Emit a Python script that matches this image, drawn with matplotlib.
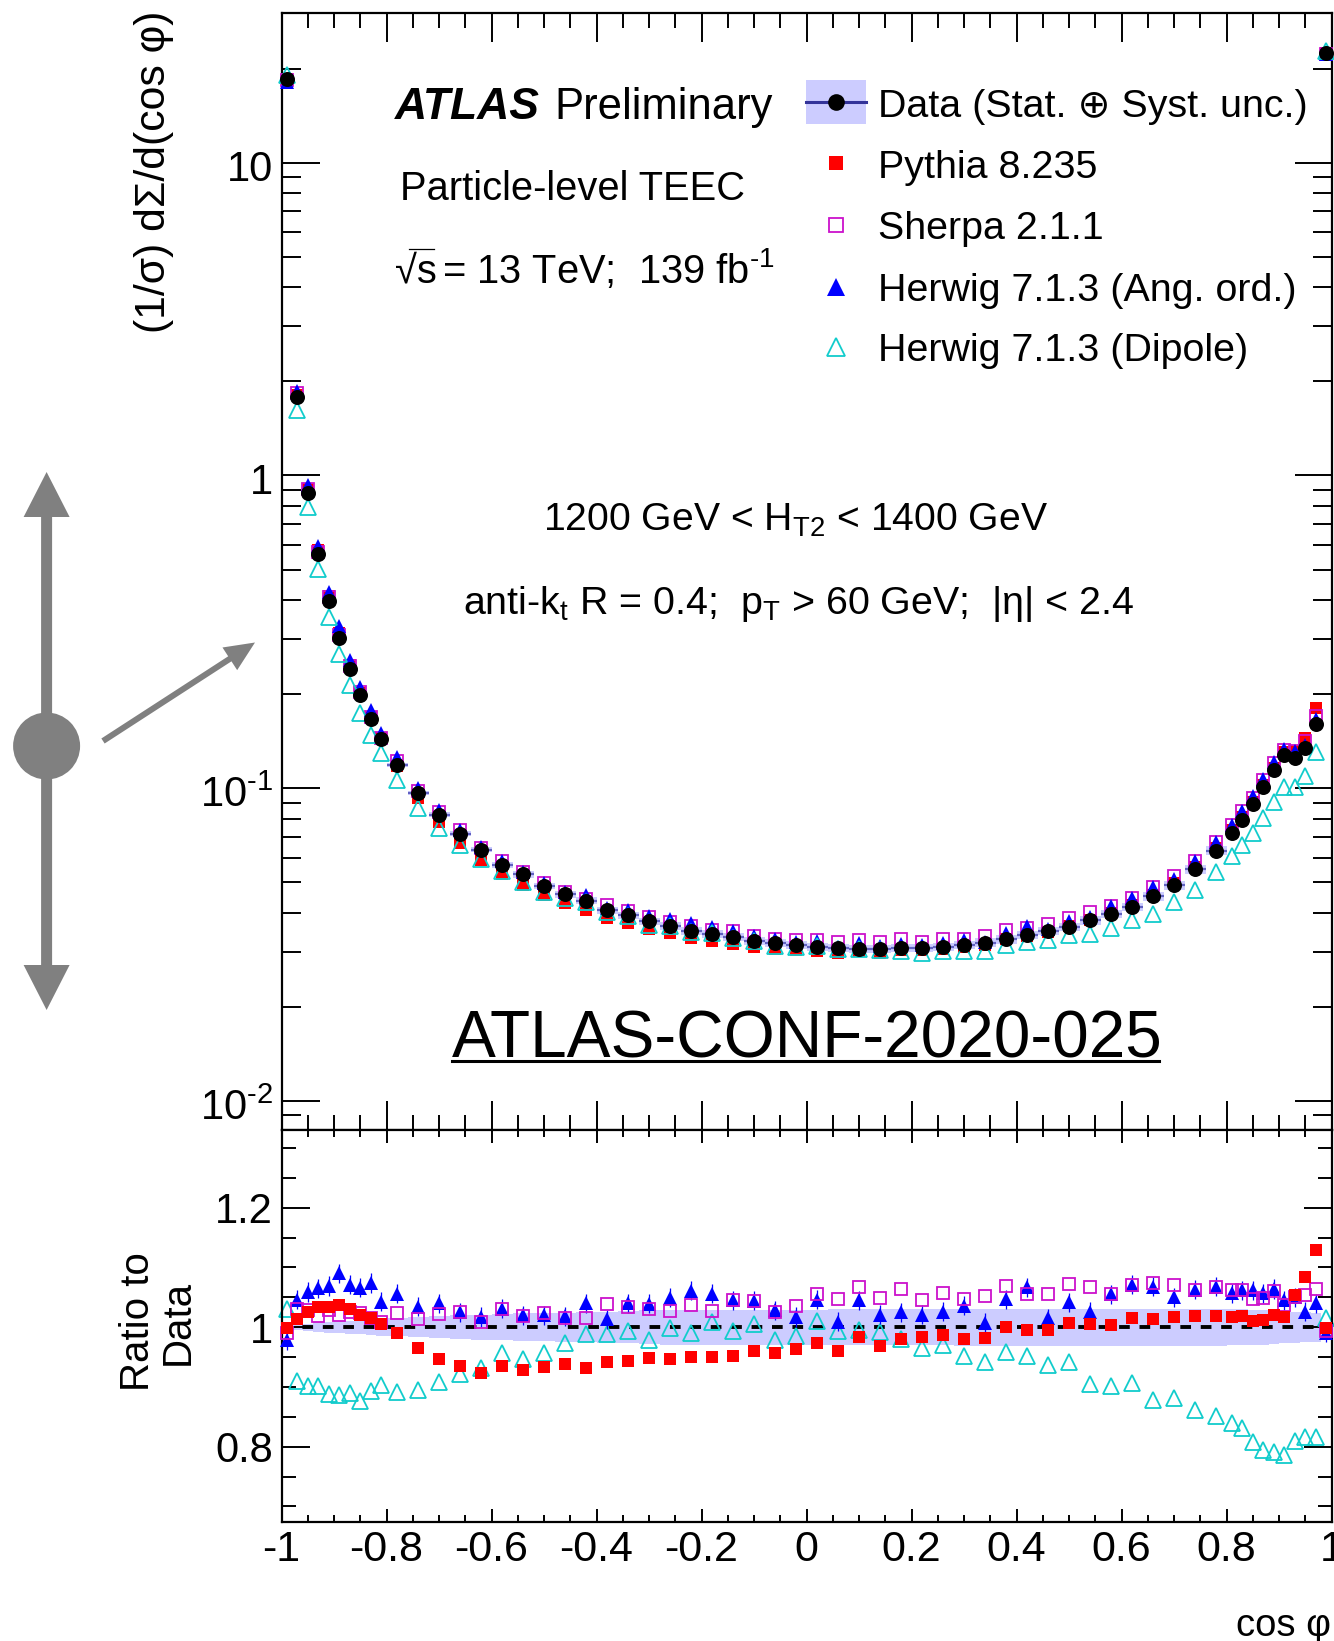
import matplotlib
matplotlib.use('Agg')
from matplotlib import pyplot as plt
from matplotlib.patches import FancyArrow, Circle, Rectangle
from matplotlib.transforms import ScaledTranslation
import numpy as np

plt.rcParams['font.family'] = ['Liberation Sans', 'DejaVu Sans']
plt.rcParams['mathtext.fontset'] = 'custom'
plt.rcParams['mathtext.rm'] = 'Liberation Sans'
plt.rcParams['mathtext.it'] = 'Liberation Sans:italic'
plt.rcParams['mathtext.bf'] = 'Liberation Sans:bold'
plt.rcParams['axes.unicode_minus'] = False

# bin edges in cos phi
x_edges = [-1.0, -0.98, -0.96, -0.94, -0.92, -0.90, -0.88, -0.86, -0.84, -0.82, -0.80,
           -0.76, -0.72, -0.68, -0.64, -0.60, -0.56, -0.52, -0.48, -0.44, -0.40, -0.36,
           -0.32, -0.28, -0.24, -0.20, -0.16, -0.12, -0.08, -0.04, 0.0, 0.04, 0.08,
           0.12, 0.16, 0.20, 0.24, 0.28, 0.32, 0.36, 0.40, 0.44, 0.48, 0.52, 0.56,
           0.60, 0.64, 0.68, 0.72, 0.76, 0.80, 0.82, 0.84, 0.86, 0.88, 0.90, 0.92,
           0.94, 0.96, 0.98, 1.0]

data = [18.5, 1.78, 0.88, 0.559, 0.398, 0.302, 0.240, 0.198, 0.166, 0.144,
        0.119, 0.0966, 0.0822, 0.0716, 0.0637, 0.0568, 0.0530, 0.0487, 0.0458, 0.0437,
        0.0408, 0.0392, 0.0375, 0.0363, 0.0350, 0.0342, 0.0334, 0.0324, 0.0321, 0.0316,
        0.0311, 0.0309, 0.0307, 0.0307, 0.0309, 0.0309, 0.0311, 0.0316, 0.0321, 0.0329,
        0.0339, 0.0350, 0.0360, 0.0378, 0.0397, 0.0417, 0.0451, 0.0489, 0.0550, 0.0632,
        0.0721, 0.0794, 0.0891, 0.101, 0.114, 0.128, 0.125, 0.134, 0.160, 22.4]

# relative half width of the stat + syst band
band = [0.002, 0.004, 0.006, 0.008, 0.009, 0.010, 0.011, 0.012, 0.013, 0.014,
        0.015, 0.017, 0.018, 0.020, 0.021, 0.022, 0.023, 0.023, 0.024, 0.025,
        0.026, 0.027, 0.028, 0.029, 0.029, 0.029, 0.029, 0.029, 0.029, 0.029,
        0.029, 0.030, 0.030, 0.030, 0.030, 0.030, 0.030, 0.031, 0.031, 0.031,
        0.031, 0.031, 0.031, 0.031, 0.031, 0.031, 0.031, 0.031, 0.031, 0.031,
        0.030, 0.030, 0.029, 0.029, 0.028, 0.027, 0.026, 0.025, 0.024, 0.002]

# ratio to data
pythia = [0.998, 1.013, 1.026, 1.034, 1.034, 1.037, 1.031, 1.020, 1.016, 1.005,
          0.991, 0.965, 0.946, 0.935, 0.924, 0.935, 0.929, 0.934, 0.938, 0.931,
          0.942, 0.944, 0.948, 0.946, 0.950, 0.950, 0.951, 0.960, 0.957, 0.964,
          0.973, 0.961, 0.983, 0.969, 0.981, 0.984, 0.987, 0.980, 0.982, 1.000,
          0.995, 0.995, 1.007, 1.006, 1.004, 1.016, 1.013, 1.017, 1.018, 1.019,
          1.017, 1.018, 1.011, 1.012, 1.020, 1.017, 1.054, 1.084, 1.129, 0.998]

sherpa = [0.991, 1.030, 1.028, 1.019, 1.028, 1.020, 1.026, 1.023, 1.015, 1.009,
          1.024, 1.014, 1.022, 1.026, 1.009, 1.030, 1.019, 1.023, 1.016, 1.015,
          1.039, 1.033, 1.030, 1.027, 1.037, 1.027, 1.045, 1.044, 1.026, 1.036,
          1.056, 1.047, 1.068, 1.049, 1.064, 1.045, 1.057, 1.047, 1.052, 1.069,
          1.055, 1.055, 1.072, 1.067, 1.055, 1.071, 1.074, 1.070, 1.062, 1.068,
          1.062, 1.062, 1.047, 1.049, 1.060, 1.037, 1.050, 1.054, 1.064, 0.994]

herwig_ang = [0.978, 1.046, 1.059, 1.065, 1.069, 1.090, 1.071, 1.066, 1.074, 1.043,
              1.056, 1.034, 1.040, 1.025, 1.017, 1.031, 1.020, 1.020, 1.018, 1.040,
              1.013, 1.040, 1.039, 1.049, 1.061, 1.056, 1.045, 1.044, 1.028, 1.017,
              1.046, 1.009, 1.045, 1.021, 1.025, 1.021, 1.026, 1.036, 1.007, 1.047,
              1.067, 1.015, 1.042, 1.026, 1.055, 1.071, 1.068, 1.050, 1.063, 1.068,
              1.057, 1.062, 1.062, 1.057, 1.064, 1.045, 1.050, 1.026, 1.040, 0.991]

herwig_dip = [1.030, 0.910, 0.902, 0.901, 0.889, 0.887, 0.890, 0.877, 0.893, 0.903,
              0.891, 0.895, 0.909, 0.922, 0.931, 0.956, 0.946, 0.956, 0.973, 0.988,
              0.988, 0.993, 0.978, 0.999, 0.991, 1.009, 0.994, 1.006, 0.978, 0.985,
              1.010, 0.993, 0.995, 0.992, 0.980, 0.965, 0.970, 0.952, 0.942, 0.959,
              0.952, 0.937, 0.942, 0.905, 0.902, 0.906, 0.879, 0.882, 0.861, 0.852,
              0.840, 0.832, 0.808, 0.794, 0.791, 0.786, 0.810, 0.816, 0.816, 1.015]

x_major = [-1, -0.8, -0.6, -0.4, -0.2, 0, 0.2, 0.4, 0.6, 0.8, 1]
x_labels = ['-1', '-0.8', '-0.6', '-0.4', '-0.2', '0', '0.2', '0.4', '0.6', '0.8', '1']
main_ticks = [10, 1, 0.1, 0.01]
main_labels = ['10', '1', '10$^{\u2010 1}$', '10$^{\u2010 2}$']
ratio_ticks = [0.8, 1, 1.2]
ratio_labels = ['0.8', '1', '1.2']

W, H = 1334, 1641
LEFT, RIGHT, TOP, MID, BOTTOM = 281.5, 1331.5, 13, 1130, 1522

BAND = '#ccccff'
RED = '#ff0000'
MAGENTA = '#cc11cc'
BLUE = '#0000ff'
CYAN = '#11cccc'

x_edges = np.array(x_edges)
x = (x_edges[:-1] + x_edges[1:]) / 2
data = np.array(data)
band = np.array(band)

fig = plt.figure(figsize=(W / 100, H / 100), dpi=100)
ax = fig.add_axes([LEFT / W, 1 - MID / H, (RIGHT - LEFT) / W, (MID - TOP) / H])
ax_r = fig.add_axes([LEFT / W, 1 - BOTTOM / H, (RIGHT - LEFT) / W, (BOTTOM - MID) / H])
over = fig.add_axes([0, 0, 1, 1])
over.set_xlim(0, W)
over.set_ylim(H, 0)
over.axis('off')

# Main panel
ax.set_yscale('log')
ax.set_xlim(-1, 1)
ax.set_ylim(0.00808, 30.1)
ax.stairs(data * (1 + band), x_edges, baseline=data * (1 - band), fill=True,
          color=BAND, linewidth=0, zorder=1)
ax.hlines(data, x_edges[:-1], x_edges[1:], color='#6060c0', linewidth=1.6, zorder=1.5)
ax.plot(x, data * np.array(pythia), 's', color=RED, ms=8.6, mew=0, clip_on=False, zorder=2)
ax.plot(x, data * np.array(sherpa), 's', mfc='none', mec=MAGENTA, ms=8.6, mew=1.3,
        clip_on=False, zorder=3)
ax.plot(x, data * np.array(herwig_ang), '^', color=BLUE, ms=10.5, mew=0, clip_on=False, zorder=4)
ax.plot(x, data * np.array(herwig_dip), '^', mfc='none', mec=CYAN, ms=11.5, mew=1.3,
        clip_on=False, zorder=5)
ax.plot(x, data, 'o', color='black', ms=10.8, mew=0, clip_on=False, zorder=6)

ax.set_yticks(main_ticks, main_labels)
ax.yaxis.set_minor_locator(matplotlib.ticker.LogLocator(base=10, subs=range(2, 10), numticks=12))
ax.yaxis.set_minor_formatter(matplotlib.ticker.NullFormatter())
ax.set_xticks(x_major)
ax.set_xticks(np.arange(-20, 21) / 20, minor=True)
ax.tick_params(axis='x', which='major', direction='in', top=True, bottom=True, length=21,
               width=1.4, labelbottom=False)
ax.tick_params(axis='x', which='minor', direction='in', top=True, bottom=True, length=10.5,
               width=1.4)
ax.tick_params(axis='y', which='major', direction='in', left=True, right=True, length=27,
               width=1.4, labelsize=30, pad=6)
ax.tick_params(axis='y', which='minor', direction='in', left=True, right=True, length=14,
               width=1.4)
# the decade labels sit a little below their ticks
for label in ax.get_yticklabels():
    label.set_transform(label.get_transform() + ScaledTranslation(0, -0.03, fig.dpi_scale_trans))

# Ratio panel
ax_r.set_xlim(-1, 1)
ax_r.set_ylim(0.674, 1.33)
ax_r.stairs(1 + band, x_edges, baseline=1 - band, fill=True, color=BAND, linewidth=0, zorder=1)
ax_r.axhline(1, color='black', linewidth=2.8, linestyle=(0, (2.75, 2.5)),
             dash_capstyle='butt', zorder=1.5)
ax_r.plot(x, herwig_dip, '^', mfc='none', mec=CYAN, ms=11.5, mew=1.3, clip_on=False, zorder=2)
ax_r.errorbar(x, herwig_ang, yerr=0.016, fmt='^', color=BLUE, ms=10.5, mew=0, elinewidth=0.9,
              capsize=1.8, capthick=0.9, clip_on=False, zorder=3)
ax_r.plot(x, sherpa, 's', mfc='none', mec=MAGENTA, ms=8.6, mew=1.3, clip_on=False, zorder=4)
ax_r.plot(x, pythia, 's', color=RED, ms=8.6, mew=0, clip_on=False, zorder=5)

ax_r.set_yticks(ratio_ticks, ratio_labels)
ax_r.set_yticks(np.arange(14, 27) / 20, minor=True)
ax_r.set_xticks(x_major, x_labels)
ax_r.set_xticks(np.arange(-20, 21) / 20, minor=True)
ax_r.tick_params(axis='x', which='major', direction='in', top=True, bottom=True, length=9.5,
                 width=1.4, labelsize=31, pad=5.5)
ax_r.tick_params(axis='x', which='minor', direction='in', top=True, bottom=True, length=5,
                 width=1.4)
ax_r.tick_params(axis='y', which='major', direction='in', left=True, right=True, length=20,
                 width=1.4, labelsize=30, pad=6)
ax_r.tick_params(axis='y', which='minor', direction='in', left=True, right=True, length=10,
                 width=1.4)

for a in (ax, ax_r):
    for spine in a.spines.values():
        spine.set_linewidth(1.6)

# Texts on the plot
over.text(395, 119, 'ATLAS', fontsize=32, fontweight='bold', fontstyle='italic')
over.text(554, 119, 'Preliminary', fontsize=31.4)
over.text(400, 200, 'Particle-level TEEC', fontsize=28.7)
over.text(395, 283, '\u221as', fontsize=28.7)
over.plot([409, 434], [248.5, 248.5], color='black', linewidth=0.9)
over.text(442, 283, '= 13 TeV;  139 fb$^{\u2010 1}$', fontsize=28.7)
over.text(543, 531, '1200 GeV < H$_{\\mathrm{T2}}$ < 1400 GeV', fontsize=28.2)
over.text(463, 614, 'anti-k$_{\\mathrm{t}}$ R = 0.4;  p$_{\\mathrm{T}}$ > 60 GeV;  |\u03b7| < 2.4',
          fontsize=28.4)
over.text(452, 1057, 'ATLAS-CONF-2020-025', fontsize=47.3)
over.plot([452, 1159], [1061, 1061], color='black', linewidth=2.2)

# Legend, placed by hand like the original
over.add_patch(Rectangle((806, 80), 60, 44, facecolor=BAND, edgecolor='none'))
over.plot([806, 866], [102, 102], color='#333399', linewidth=2.2)
over.plot(836, 102, 'o', color='black', ms=12, mew=0)
over.plot(836, 163, 's', color=RED, ms=10.5, mew=0)
over.plot(836, 225, 's', mfc='none', mec=MAGENTA, ms=10.5, mew=1.3)
over.plot(836, 287, '^', color=BLUE, ms=13.5, mew=0)
over.plot(836, 347, '^', mfc='none', mec=CYAN, ms=13.5, mew=1.3)
over.text(878, 117, 'Data (Stat. \u2295 Syst. unc.)', fontsize=28.4)
over.text(878, 178, 'Pythia 8.235', fontsize=28.4)
over.text(878, 239, 'Sherpa 2.1.1', fontsize=28.4)
over.text(878, 301, 'Herwig 7.1.3 (Ang. ord.)', fontsize=28.4)
over.text(878, 361, 'Herwig 7.1.3 (Dipole)', fontsize=28.4)

# Axis titles
over.text(154, 172, '(1/\u03c3) d\u03a3/d(cos \u03c6)', fontsize=30.8, rotation=90,
          ha='center', va='center')
over.text(138, 1322, 'Ratio to', fontsize=29, rotation=90, ha='center', va='center')
over.text(178, 1322, 'Data', fontsize=29, rotation=90, ha='center', va='center')
over.text(1331, 1636, 'cos \u03c6', fontsize=27.5, ha='right', va='baseline')

# Grey sketch on the left
GREY = '#808080'
over.add_patch(FancyArrow(46.6, 746, 0, -274, width=11, head_width=46, head_length=45,
                          length_includes_head=True, color=GREY, linewidth=0))
over.add_patch(FancyArrow(46.6, 746, 0, 264, width=11, head_width=46, head_length=45,
                          length_includes_head=True, color=GREY, linewidth=0))
over.add_patch(Circle((46.6, 746), 33.5, color=GREY, linewidth=0))
over.add_patch(FancyArrow(103, 741, 152, -98.5, width=6, head_width=27, head_length=30,
                          length_includes_head=True, color=GREY, linewidth=0))

fig.savefig('out.png', dpi=100)
